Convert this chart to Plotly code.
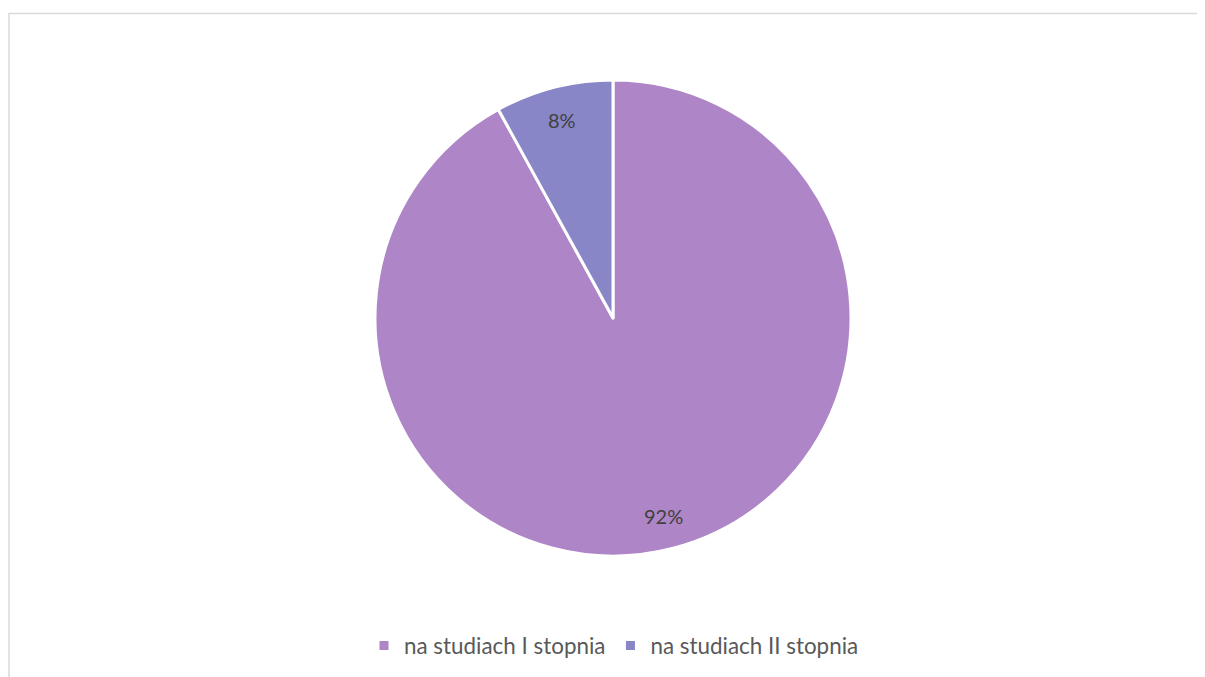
import math
import plotly.graph_objects as go

W, H = 1205, 677
OX, OY = 8, 8  # page body offset

labels = ["na studiach I stopnia", "na studiach II stopnia"]
values = [92, 8]
colors = ["#AE85C6", "#8986C8"]


def px(x):
    return (x - OX) / W


def py(y):
    return 1 - (y - OY) / H


cx, cy, r = 613, 318, 238

fig = go.Figure()
fig.add_trace(go.Pie(
    labels=labels,
    values=values,
    sort=False,
    direction="clockwise",
    rotation=0,
    marker=dict(colors=colors, line=dict(color="white", width=3)),
    textinfo="none",
    domain=dict(x=[px(cx - r), px(cx + r)], y=[py(cy + r), py(cy - r)]),
    hoverinfo="label+percent",
))

# percentage labels placed on each slice bisector (Excel-style best fit)
total = sum(values)
annotations = []
cum = 0
for v in values:
    mid = (cum + v / 2) / total * 2 * math.pi
    cum += v
    lr = 0.86 * r
    lx = cx + lr * math.sin(mid)
    ly = cy - lr * math.cos(mid)
    annotations.append(dict(
        x=px(lx), y=py(ly), xref="paper", yref="paper",
        text=f"{round(v / total * 100)}%", showarrow=False,
        font=dict(family="Lato, Open Sans, sans-serif", size=20, color="#404040"),
        xanchor="center", yanchor="middle",
    ))

fig.update_layout(
    width=W, height=H,
    margin=dict(l=0, r=0, t=0, b=0),
    paper_bgcolor="white",
    plot_bgcolor="white",
    showlegend=True,
    annotations=annotations,
    legend=dict(
        orientation="h",
        x=px(614), xanchor="center",
        y=py(646), yanchor="middle",
        font=dict(family="Lato, Open Sans, sans-serif", size=22.4, color="#595959"),
        itemwidth=30,
        tracegroupgap=0,
    ),
    shapes=[dict(
        type="rect", xref="paper", yref="paper",
        x0=px(9), x1=1.02, y0=-0.05, y1=py(13.5),
        line=dict(color="#D9D9D9", width=1.5),
        fillcolor="rgba(0,0,0,0)",
        layer="below",
    )],
)

fig.write_html("out.html")
